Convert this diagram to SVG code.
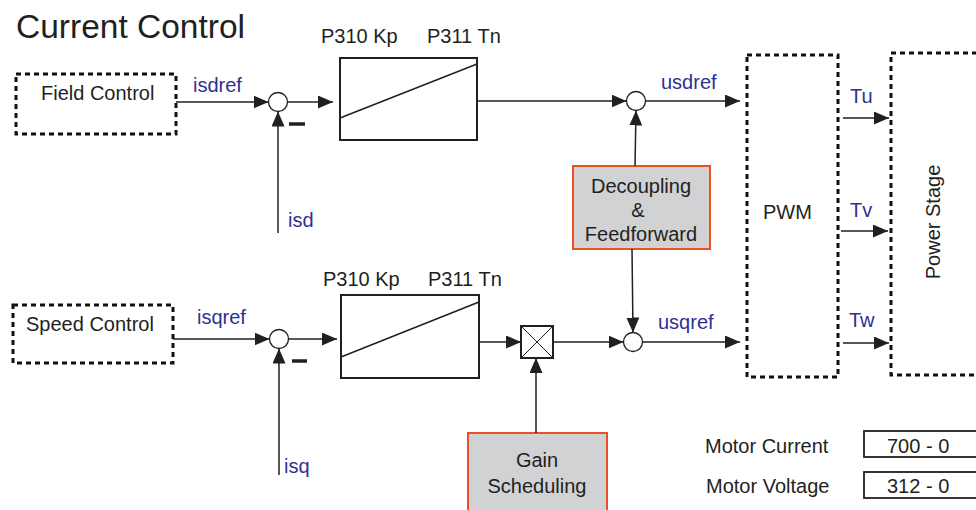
<svg xmlns="http://www.w3.org/2000/svg" width="976" height="510" viewBox="0 0 976 510">
<defs>
<style>
text{font-family:"Liberation Sans",Arial,sans-serif;fill:#231f20;font-size:20px}
.sig{fill:#2e3192}
.ln{stroke:#231f20;stroke-width:1.5;fill:none}
.arr{marker-end:url(#ah)}
.dash{fill:none;stroke:#111;stroke-width:3;stroke-dasharray:5 4}
.blk{fill:#fff;stroke:#231f20;stroke-width:2}
.sum{fill:#fff;stroke:#231f20;stroke-width:1.3}
.orange{fill:#d1d2d4;stroke:#f04e23;stroke-width:2}
.minus{stroke:#231f20;stroke-width:3.5}
.mid{text-anchor:middle}
</style>
<marker id="ah" markerUnits="userSpaceOnUse" markerWidth="15" markerHeight="13" refX="15" refY="6.5" orient="auto">
<path d="M0,0 L15,6.5 L0,13 z" fill="#231f20"/>
</marker>
</defs>
<rect width="976" height="510" fill="#fff"/>
<text x="16" y="38" style="font-size:33.5px">Current Control</text>

<g id="field-control"><rect class="dash" x="16" y="74" width="160" height="60"/><text x="41" y="100">Field Control</text></g>
<g id="speed-control"><rect class="dash" x="13" y="305" width="160" height="58"/><text x="26" y="331">Speed Control</text></g>

<g id="sum-d"><circle class="sum" cx="278" cy="102" r="9.5"/><line class="minus" x1="289" y1="124" x2="305" y2="124"/></g>
<g id="sum-q"><circle class="sum" cx="279" cy="339" r="9.5"/><line class="minus" x1="292" y1="361" x2="307" y2="361"/></g>

<g id="pi-d"><rect class="blk" x="340" y="58" width="137" height="82"/><line class="ln" x1="340" y1="118" x2="477" y2="64"/><text x="321" y="43">P310 Kp</text><text x="427" y="43">P311 Tn</text></g>
<g id="pi-q"><rect class="blk" x="341" y="295" width="138" height="83"/><line class="ln" x1="341" y1="357" x2="479" y2="302"/><text x="323" y="286">P310 Kp</text><text x="428" y="286">P311 Tn</text></g>

<g id="sum-ud"><circle class="sum" cx="636" cy="101" r="9.5"/></g>
<g id="sum-uq"><circle class="sum" cx="633" cy="342" r="9.5"/></g>

<g id="multiplier"><rect class="blk" x="521" y="326" width="32" height="32"/><line class="ln" x1="521" y1="326" x2="553" y2="358" style="stroke-width:1"/><line class="ln" x1="553" y1="326" x2="521" y2="358" style="stroke-width:1"/></g>

<g id="decoupling"><rect class="orange" x="573" y="166" width="137" height="83"/><text class="mid" x="641" y="193">Decoupling</text><text class="mid" x="638" y="217">&amp;</text><text class="mid" x="641" y="241">Feedforward</text></g>
<g id="gain-scheduling"><rect class="orange" x="468" y="433" width="139" height="90"/><text class="mid" x="537" y="467">Gain</text><text class="mid" x="537" y="493">Scheduling</text></g>

<g id="pwm"><rect class="dash" x="747" y="55" width="91" height="322"/><text x="763" y="219">PWM</text></g>
<g id="power-stage"><rect class="dash" x="891" y="53" width="110" height="322"/><text class="mid" transform="translate(940,222) rotate(-90)">Power Stage</text></g>

<g id="connectors">
<line class="ln arr" x1="176" y1="102" x2="268.5" y2="102"/>
<line class="ln arr" x1="278" y1="233" x2="278" y2="111.5"/>
<line class="ln arr" x1="287.5" y1="102" x2="333" y2="102"/>
<line class="ln arr" x1="477" y1="101" x2="626.5" y2="101"/>
<line class="ln arr" x1="645.5" y1="101" x2="740" y2="101"/>
<line class="ln arr" x1="635" y1="166" x2="636" y2="110.5"/>
<line class="ln arr" x1="632" y1="249" x2="633" y2="332.5"/>
<line class="ln arr" x1="173" y1="339" x2="269.5" y2="339"/>
<line class="ln arr" x1="279" y1="475" x2="279" y2="348.5"/>
<line class="ln arr" x1="288.5" y1="339" x2="337" y2="339"/>
<line class="ln arr" x1="479" y1="342" x2="521" y2="342"/>
<line class="ln arr" x1="553" y1="342" x2="623.5" y2="342"/>
<line class="ln arr" x1="642.5" y1="342" x2="740" y2="342"/>
<line class="ln arr" x1="536" y1="433" x2="536" y2="358"/>
<line class="ln arr" x1="843" y1="118" x2="889" y2="118"/>
<line class="ln arr" x1="841" y1="231" x2="888" y2="231"/>
<line class="ln arr" x1="843" y1="343" x2="889" y2="343"/>
</g>

<g id="labels">
<text class="sig" x="193" y="92">isdref</text>
<text class="sig" x="288" y="227">isd</text>
<text class="sig" x="197" y="324">isqref</text>
<text class="sig" x="284" y="473">isq</text>
<text class="sig" x="661" y="89">usdref</text>
<text class="sig" x="658" y="329">usqref</text>
<text class="sig" x="850" y="103">Tu</text>
<text class="sig" x="850" y="217">Tv</text>
<text class="sig" x="849" y="327">Tw</text>
</g>

<g id="motor-current"><text x="705" y="453">Motor Current</text><rect class="blk" x="864" y="431" width="130" height="26" style="stroke-width:1.8"/><text x="887" y="453">700 - 0</text></g>
<g id="motor-voltage"><text x="706" y="493">Motor Voltage</text><rect class="blk" x="864" y="472" width="130" height="26" style="stroke-width:1.8"/><text x="887" y="493">312 - 0</text></g>
</svg>
